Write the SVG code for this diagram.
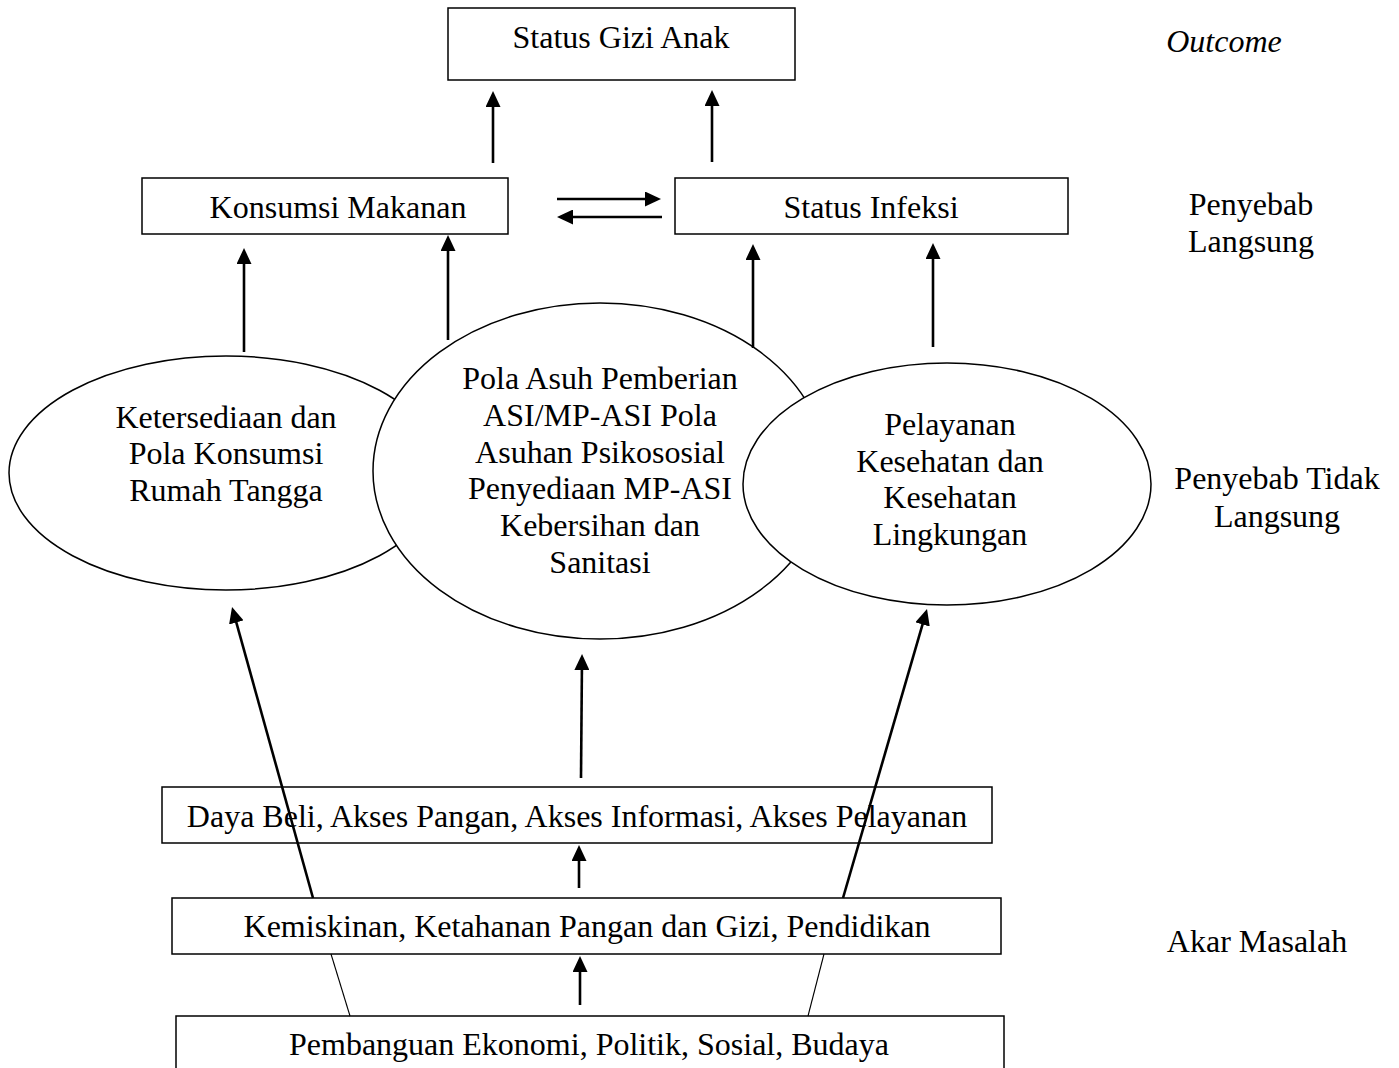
<svg xmlns="http://www.w3.org/2000/svg" width="1399" height="1068" viewBox="0 0 1399 1068">
<style>
text{font-family:"Liberation Serif","Times New Roman",serif;font-size:32px;fill:#000;text-anchor:middle}
.box{fill:#fff;stroke:#000;stroke-width:1.5}
.ell{fill:#fff;stroke:#000;stroke-width:1.5}
.arr{stroke:#000;stroke-width:2.6;fill:none;marker-end:url(#ah)}
.thin{stroke:#000;stroke-width:1.1;fill:none}
.it{font-style:italic}
</style>
<defs>
<marker id="ah" viewBox="0 0 16 15" refX="12" refY="7.5" markerWidth="16" markerHeight="15" markerUnits="userSpaceOnUse" orient="auto">
<path d="M0,0 L16,7.5 L0,15 z" fill="#000"/>
</marker>
</defs>
<rect width="1399" height="1068" fill="#fff"/>

<g id="status-gizi"><rect class="box" x="448" y="8" width="347" height="72"/><text x="621" y="48">Status Gizi Anak</text></g>
<g id="konsumsi"><rect class="box" x="142" y="178" width="366" height="56"/><text x="338" y="218">Konsumsi Makanan</text></g>
<g id="infeksi"><rect class="box" x="675" y="178" width="393" height="56"/><text x="871" y="218">Status Infeksi</text></g>

<g id="ketersediaan"><ellipse class="ell" cx="226" cy="473" rx="217" ry="117"/>
<text x="226" y="428">Ketersediaan dan</text><text x="226" y="464">Pola Konsumsi</text><text x="226" y="501">Rumah Tangga</text></g>
<g id="pola-asuh"><ellipse class="ell" cx="600" cy="471" rx="227" ry="168"/>
<text x="600" y="389">Pola Asuh Pemberian</text><text x="600" y="426">ASI/MP-ASI Pola</text><text x="600" y="463">Asuhan Psikososial</text><text x="600" y="499">Penyediaan MP-ASI</text><text x="600" y="536">Kebersihan dan</text><text x="600" y="573">Sanitasi</text></g>
<g id="pelayanan"><ellipse class="ell" cx="947" cy="484" rx="204" ry="121"/>
<text x="950" y="435">Pelayanan</text><text x="950" y="472">Kesehatan dan</text><text x="950" y="508">Kesehatan</text><text x="950" y="545">Lingkungan</text></g>

<g id="daya-beli"><rect class="box" x="162" y="787" width="830" height="56"/><text x="577" y="827">Daya Beli, Akses Pangan, Akses Informasi, Akses Pelayanan</text></g>
<g id="kemiskinan"><rect class="box" x="172" y="898" width="829" height="56"/><text x="587" y="937">Kemiskinan, Ketahanan Pangan dan Gizi, Pendidikan</text></g>
<g id="pembangunan"><rect class="box" x="176" y="1016" width="828" height="70"/><text x="589" y="1055">Pembanguan Ekonomi, Politik, Sosial, Budaya</text></g>

<g id="labels">
<text class="it" x="1224" y="52">Outcome</text>
<text x="1251" y="215">Penyebab</text><text x="1251" y="252">Langsung</text>
<text x="1277" y="489">Penyebab Tidak</text><text x="1277" y="527">Langsung</text>
<text x="1257" y="952">Akar Masalah</text>
</g>

<g id="connectors">
<line class="arr" x1="493" y1="163" x2="493" y2="95"/>
<line class="arr" x1="712" y1="162" x2="712" y2="94"/>
<line class="arr" x1="244" y1="352" x2="244" y2="252"/>
<line class="arr" x1="448" y1="340" x2="448" y2="239"/>
<line class="arr" x1="753" y1="348" x2="753" y2="248"/>
<line class="arr" x1="933" y1="347" x2="933" y2="247"/>
<line class="arr" x1="557" y1="199" x2="657" y2="199"/>
<line class="arr" x1="662" y1="217" x2="561" y2="217"/>
<line class="arr" x1="581" y1="778" x2="582" y2="658"/>
<line class="arr" x1="579" y1="888" x2="579" y2="849"/>
<line class="arr" x1="580" y1="1005" x2="580" y2="960"/>
<line class="arr" x1="313" y1="898" x2="233.1" y2="610.9"/>
<line class="arr" x1="843" y1="898" x2="925.9" y2="612.9"/>
<line class="thin" x1="331" y1="954" x2="350" y2="1016"/>
<line class="thin" x1="824" y1="954" x2="808" y2="1016"/>
</g>
</svg>
